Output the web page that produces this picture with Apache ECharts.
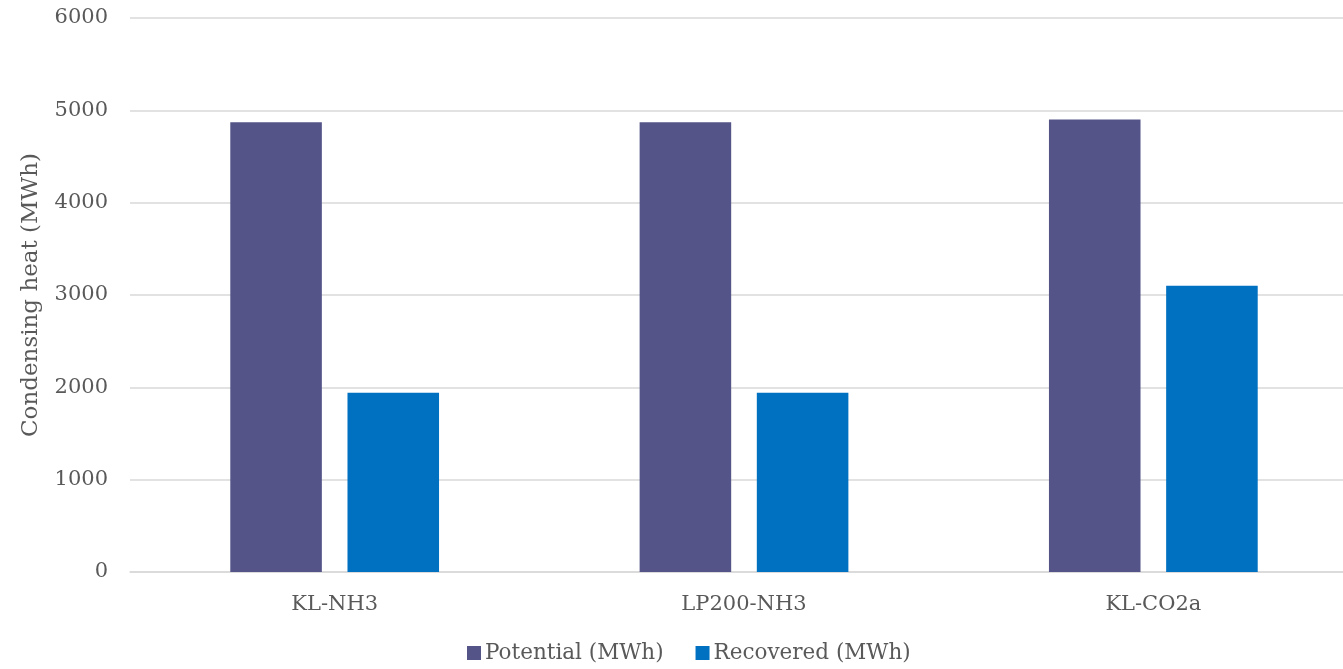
<!DOCTYPE html>
<html>
<head>
<meta charset="utf-8">
<script src="https://cdn.jsdelivr.net/npm/echarts@6/dist/echarts.min.js"></script>
<style>
  html, body { margin: 0; padding: 0; background: #fff; overflow: hidden; }
  /* plot area runs slightly past the right edge of the window */
  #chart { width: 1358px; height: 669px; }
</style>
</head>
<body>
<div id="chart"></div>
<script>
// Condensing heat per configuration
const categories = ['KL-NH3', 'LP200-NH3', 'KL-CO2a'];
const potential = [4870, 4870, 4900];
const recovered = [1940, 1940, 3100];
const yTicks = [0, 1000, 2000, 3000, 4000, 5000, 6000];

const FONT = "'DejaVu Serif', 'Liberation Serif', serif";
const TEXT = '#595959';

const chart = echarts.init(document.getElementById('chart'));
chart.setOption({
  textStyle: { fontFamily: FONT, color: TEXT },
  animation: false,
  grid: { left: 130, right: 0, top: 18, bottom: 97 },
  legend: {
    bottom: 0,
    left: 462,
    itemWidth: 14,
    itemHeight: 14,
    itemGap: 32,
    icon: 'rect',
    textStyle: { fontFamily: FONT, fontSize: 21.5, color: TEXT, padding: [0, 0, 0, -1] },
    data: ['Potential (MWh)', 'Recovered (MWh)']
  },
  xAxis: {
    type: 'category',
    data: categories,
    axisLine: { lineStyle: { color: '#d9d9d9', width: 1.5 } },
    axisTick: { show: false },
    axisLabel: { fontFamily: FONT, fontSize: 21, color: TEXT, margin: 22 }
  },
  yAxis: {
    type: 'value',
    min: yTicks[0],
    max: yTicks[yTicks.length - 1],
    interval: 1000,
    name: 'Condensing heat (MWh)',
    nameLocation: 'middle',
    nameGap: 87,
    nameRotate: 90,
    nameTextStyle: { fontFamily: FONT, fontSize: 23, color: TEXT },
    axisLine: { show: false },
    axisTick: { show: false },
    axisLabel: {
      fontFamily: FONT, fontSize: 21, color: TEXT, margin: 22,
      formatter: v => String(v)
    },
    splitLine: { lineStyle: { color: '#d9d9d9', width: 1.5 } }
  },
  series: [
    {
      name: 'Potential (MWh)',
      type: 'bar',
      data: potential,
      itemStyle: { color: '#545488' },
      barGap: '28%',
      barCategoryGap: '49%'
    },
    {
      name: 'Recovered (MWh)',
      type: 'bar',
      data: recovered,
      itemStyle: { color: '#0070c0' }
    }
  ]
});
</script>
</body>
</html>
